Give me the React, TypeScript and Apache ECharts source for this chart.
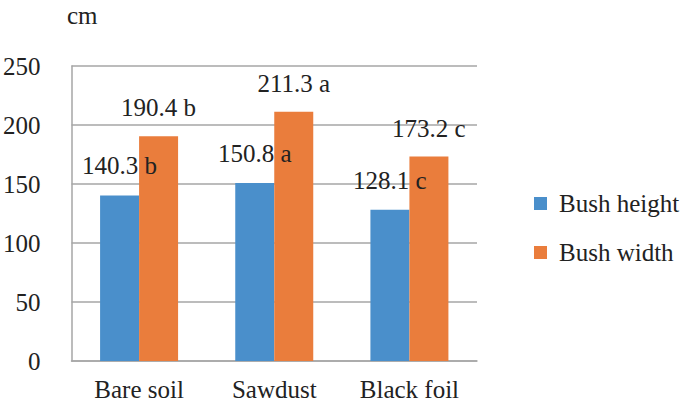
import React, { useEffect, useRef } from "react";
import * as echarts from "echarts";

const categories = ["Bare soil", "Sawdust", "Black foil"];
const heightValues = [140.3, 150.8, 128.1];
const heightLetters = ["b", "a", "c"];
const widthValues = [190.4, 211.3, 173.2];
const widthLetters = ["b", "a", "c"];
const yTicks = [0, 50, 100, 150, 200, 250];

const FONT = "Liberation Serif";
const FS = 25;

export default function App() {
  const ref = useRef<HTMLDivElement>(null);
  useEffect(() => {
    if (!ref.current) return;
    const chart = echarts.init(ref.current, undefined, { renderer: "svg" });
    chart.setOption({
      animation: false,
      textStyle: { fontFamily: FONT, fontSize: FS, color: "#222" },
      graphic: [
        {
          type: "text",
          left: 67,
          top: 3,
          style: { text: "cm", fontFamily: FONT, fontSize: FS, fill: "#222" },
        },
      ],
      legend: {
        orient: "vertical",
        left: 529,
        top: 186,
        itemWidth: 13,
        itemHeight: 13,
        itemGap: 24,
        icon: "rect",
        textStyle: { fontFamily: FONT, fontSize: FS, color: "#222", padding: [0, 0, 0, 7] },
        data: ["Bush height", "Bush width"],
      },
      grid: { left: 68, right: 208, top: 66, bottom: 47, containLabel: false },
      xAxis: {
        type: "category",
        data: categories,
        axisLine: { show: true, lineStyle: { color: "#a6a6a6", width: 1.5 } },
        axisTick: { show: false },
        axisLabel: { fontFamily: FONT, fontSize: FS, color: "#222", margin: 16 },
        splitLine: { show: false },
      },
      yAxis: {
        type: "value",
        min: yTicks[0],
        max: yTicks[yTicks.length - 1],
        interval: 50,
        axisLine: { show: true, lineStyle: { color: "#a6a6a6", width: 1.5 } },
        axisTick: { show: false },
        axisLabel: { fontFamily: FONT, fontSize: FS, color: "#222", margin: 31 },
        splitLine: { show: true, lineStyle: { color: "#a6a6a6", width: 1.5 } },
      },
      series: [
        {
          name: "Bush height",
          type: "bar",
          data: heightValues,
          barWidth: 39,
          barGap: "0%",
          itemStyle: { color: "#4a8fcb" },
          label: {
            show: true,
            position: "top",
            distance: 17,
            fontFamily: FONT,
            fontSize: FS,
            color: "#222",
            formatter: (p: any) => `${p.value.toFixed(1)} ${heightLetters[p.dataIndex]}`,
          },
        },
        {
          name: "Bush width",
          type: "bar",
          data: widthValues,
          barWidth: 39,
          barGap: "0%",
          itemStyle: { color: "#ea7d3c" },
          label: {
            show: true,
            position: "top",
            distance: 16,
            fontFamily: FONT,
            fontSize: FS,
            color: "#222",
            formatter: (p: any) => `${p.value.toFixed(1)} ${widthLetters[p.dataIndex]}`,
          },
        },
      ],
    });
    return () => chart.dispose();
  }, []);
  return <div ref={ref} style={{ width: 685, height: 408, position: "absolute", left: 0, top: 0 }} />;
}
